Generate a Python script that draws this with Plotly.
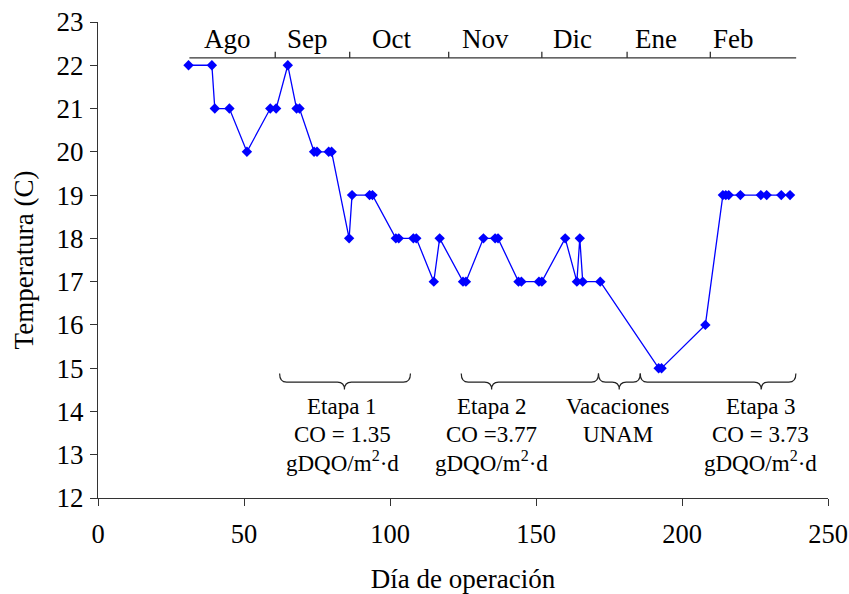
import plotly.graph_objects as go

# ---- data ----
days = [31, 39, 40, 45, 51, 59, 61, 65, 68, 69, 74, 75, 79, 80, 86, 87, 93, 94,
        102, 103, 108, 109, 115, 117, 125, 126, 132, 136, 137, 144, 145, 151, 152,
        160, 164, 165, 166, 172, 192, 193, 208, 214, 215, 216, 220, 227, 229, 234, 237]
temps = [22, 22, 21, 21, 20, 21, 21, 22, 21, 21, 20, 20, 20, 20, 18, 19, 19, 19,
         18, 18, 18, 18, 17, 18, 17, 17, 18, 18, 18, 17, 17, 17, 17,
         18, 17, 18, 17, 17, 15, 15, 16, 19, 19, 19, 19, 19, 19, 19, 19]

month_labels = ["Ago", "Sep", "Oct", "Nov", "Dic", "Ene", "Feb"]
month_label_days = [44.5, 71.9, 100.4, 132.7, 162.4, 191.2, 217.6]
month_starts = [31.3, 60.7, 86.2, 120.1, 152.0, 181.2, 209.7]
month_end = 239.1

brace_starts = [62.2, 124.4, 171.4, 185.7]
brace_ends = [107.0, 171.4, 185.7, 239.0]
brace_tips = [84.4, 134.8, 178.5, 227.1]

stage_text_days = [83.7, 134.8, 178.0, 226.9]
stage_line1 = ["Etapa 1", "Etapa 2", "Vacaciones", "Etapa 3"]
stage_line2 = ["CO = 1.35", "CO =3.77", "UNAM", "CO = 3.73"]
stage_line3 = ["gDQO/m<sup>2</sup>·d", "gDQO/m<sup>2</sup>·d", "", "gDQO/m<sup>2</sup>·d"]

x_ticks = [0, 50, 100, 150, 200, 250]
y_ticks = list(range(12, 24))

# ---- styling / positions ----
FONT = "Liberation Serif, serif"
BIG = 27
SMALL = 23
month_line_y = 22.17
month_tick_h = 0.14
month_label_y = 22.6
brace_top_y = 14.877
brace_mid_y = 14.676
brace_tip_y = 14.507
brace_h = 2.4
text_ys = [14.12, 13.467, 12.85]

fig = go.Figure()
fig.add_trace(go.Scatter(
    x=days, y=temps, mode="lines+markers",
    line=dict(color="#0000FF", width=1.3),
    marker=dict(symbol="diamond", size=8, color="#0000FF"),
    showlegend=False, hoverinfo="x+y"))

shapes = []
shapes.append(dict(type="line", xref="x", yref="y", x0=month_starts[0], x1=month_end,
                   y0=month_line_y, y1=month_line_y, line=dict(color="#333333", width=1.3)))
for m in month_starts[1:]:
    shapes.append(dict(type="line", xref="x", yref="y", x0=m, x1=m,
                       y0=month_line_y, y1=month_line_y + month_tick_h,
                       line=dict(color="#333333", width=1.3)))


def brace(a, b, c):
    h = brace_h
    return (f"M {a},{brace_top_y} Q {a},{brace_mid_y} {a + h},{brace_mid_y} "
            f"L {c - h},{brace_mid_y} Q {c},{brace_mid_y} {c},{brace_tip_y} "
            f"Q {c},{brace_mid_y} {c + h},{brace_mid_y} "
            f"L {b - h},{brace_mid_y} Q {b},{brace_mid_y} {b},{brace_top_y}")


for a, b, c in zip(brace_starts, brace_ends, brace_tips):
    shapes.append(dict(type="path", xref="x", yref="y", path=brace(a, b, c),
                       line=dict(color="#222222", width=1.2)))

annotations = []
for lab, xd in zip(month_labels, month_label_days):
    annotations.append(dict(x=xd, y=month_label_y, xref="x", yref="y", text=lab,
                            showarrow=False, xanchor="center", yanchor="middle",
                            font=dict(family=FONT, size=BIG, color="black")))
for xd, l1, l2, l3 in zip(stage_text_days, stage_line1, stage_line2, stage_line3):
    for txt, yy in zip([l1, l2, l3], text_ys):
        if txt:
            annotations.append(dict(x=xd, y=yy, xref="x", yref="y", text=txt,
                                    showarrow=False, xanchor="center", yanchor="middle",
                                    font=dict(family=FONT, size=SMALL, color="black")))

fig.update_layout(
    width=849, height=594,
    margin=dict(l=98, r=21, t=22, b=96, autoexpand=False),
    paper_bgcolor="white", plot_bgcolor="white",
    font=dict(family=FONT, size=BIG, color="black"),
    shapes=shapes, annotations=annotations,
    xaxis=dict(range=[0, 250], tickvals=x_ticks, ticks="outside", ticklen=7,
               tickcolor="#333333", showline=True, linecolor="#333333", linewidth=1.3,
               showgrid=False, zeroline=False, ticklabelstandoff=5, automargin=False,
               ticklabeloverflow="allow",
               tickfont=dict(family=FONT, size=26.5),
               title=dict(text="Día de operación", standoff=21,
                          font=dict(family=FONT, size=BIG))),
    yaxis=dict(range=[12, 23], tickvals=y_ticks, ticks="outside", ticklen=7,
               tickcolor="#333333", showline=True, linecolor="#333333", linewidth=1.3,
               showgrid=False, zeroline=False, ticklabelstandoff=1, automargin=False,
               tickfont=dict(family=FONT, size=BIG),
               title=dict(text="Temperatura (C)", standoff=15,
                          font=dict(family=FONT, size=BIG))),
)

fig.write_html("out.html", config={"displayModeBar": False},
               post_script="document.body.style.margin='0';document.body.style.overflow='hidden';")
